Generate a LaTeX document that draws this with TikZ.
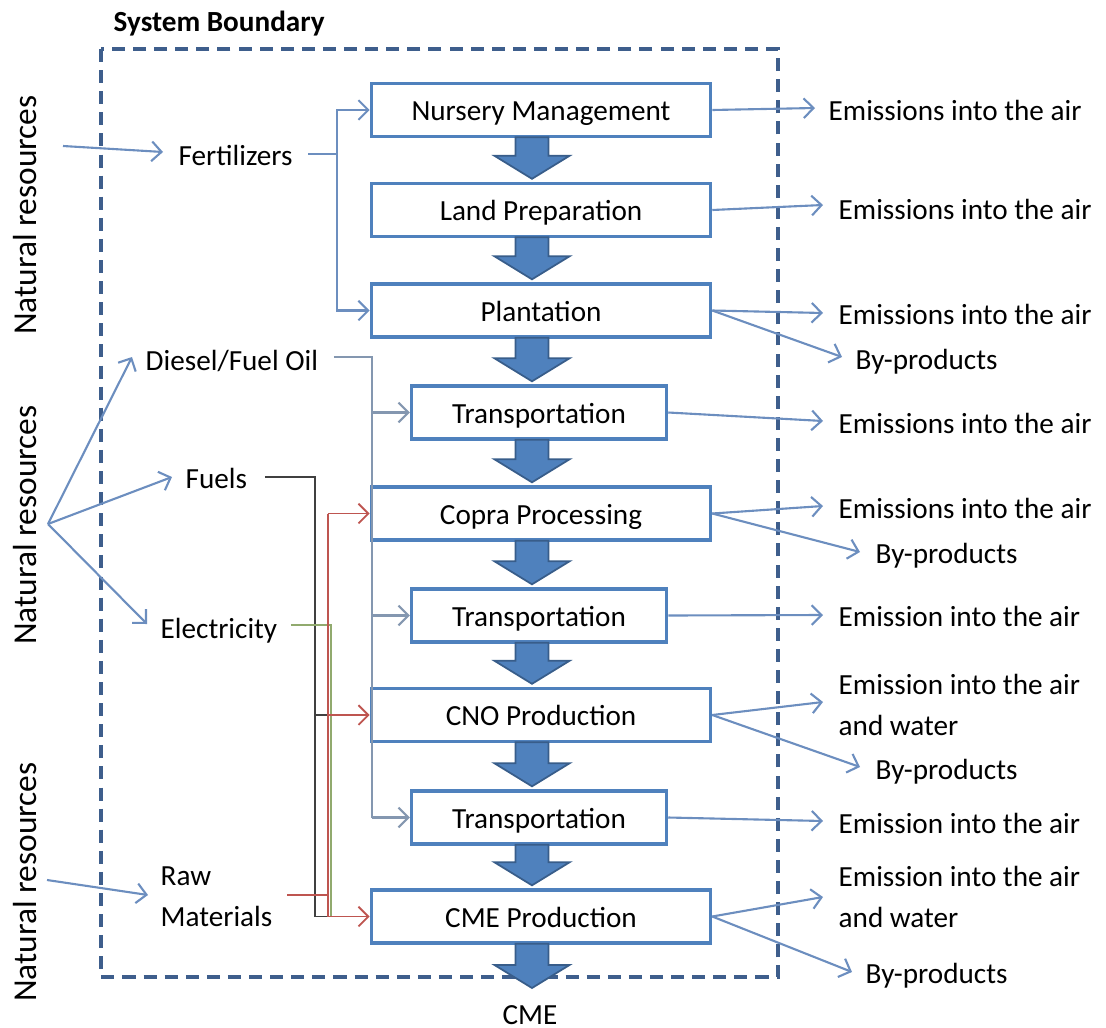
\documentclass[tikz,border=0pt]{standalone}
\usepackage{fontspec}
\setmainfont{Carlito}
\usetikzlibrary{calc,arrows.meta}
\definecolor{boxblue}{RGB}{79,129,189}
\definecolor{arrfill}{RGB}{79,129,189}
\definecolor{arrdark}{RGB}{56,93,138}
\definecolor{bndc}{RGB}{62,94,140}
\definecolor{thinblue}{RGB}{108,142,191}
\definecolor{dieselc}{RGB}{132,151,176}
\definecolor{fuelc}{RGB}{64,64,64}
\definecolor{rawc}{RGB}{190,85,80}
\definecolor{elecc}{RGB}{145,170,110}
\newcommand\fs{\fontsize{8.3}{11.6}\selectfont}
\newcommand\blockarr[2]{%
  \coordinate (ba1) at (#1 -| axisx);
  \coordinate (ba2) at (#2 -| axisx);
  \draw[barrow] ($(ba1)+(-16.5,-1)$) -- ($(ba1)+(16.5,-1)$) -- ($(ba2)+(16.5,-26)$)
    -- ($(ba2)+(37.5,-26)$) -- ($(ba2)+(0,-3)$) -- ($(ba2)+(-37.5,-26)$)
    -- ($(ba2)+(-16.5,-26)$) -- cycle;}
\begin{document}
\begin{tikzpicture}[x=0.01cm,y=-0.01cm,
  pbox/.style={draw=boxblue,line width=0.95pt,fill=white,minimum height=0.53cm,inner sep=0,font=\fs,text height=0.72em,text depth=0.1em},
  wide/.style={pbox,minimum width=3.39cm},
  narrow/.style={pbox,minimum width=2.55cm},
  lbl/.style={font=\fs,inner sep=0,anchor=west,text height=0.65em,text depth=0pt},
  lbl2/.style={font=\fs,inner sep=0,anchor=west,align=left},
  nres/.style={font=\fontsize{9.5}{11}\selectfont,inner sep=0,rotate=90},
  barrow/.style={fill=arrfill,draw=arrdark,line width=0.5pt,line join=miter},
  tipb/.style={-{Straight Barb[length=2.8pt,width=5.6pt]}},
  tl/.style={draw=thinblue,line width=0.6pt,tipb},
  dl/.style={draw=dieselc,line width=0.6pt},
  kl/.style={draw=fuelc,line width=0.55pt},
  rl/.style={draw=rawc,line width=0.55pt},
  gl/.style={draw=elecc,line width=0.65pt},
  bnd/.style={draw=bndc,line width=1pt,dash pattern=on 3.7pt off 2.3pt}]
\useasboundingbox (0,0) rectangle (1106,1027);
\coordinate (axisx) at (532,0);

% system boundary
\draw[bnd] (101,49) rectangle (778,977);
\node[font=\fs\bfseries,inner sep=0,anchor=west,text height=0.65em,text depth=0pt] (sb) at (113,20) {System Boundary};

% process boxes
\node[wide]   (nm)    at (541,110)   {Nursery Management};
\node[wide]   (lp)    at (541,210)   {Land Preparation};
\node[wide]   (plant) at (541,310.5) {Plantation};
\node[narrow] (t1)    at (539,412.5) {Transportation};
\node[wide]   (copra) at (541,513.5) {Copra Processing};
\node[narrow] (t2)    at (539,615.5) {Transportation};
\node[wide]   (cno)   at (541,715)   {CNO Production};
\node[narrow] (t3)    at (539,817.5) {Transportation};
\node[wide]   (cme)   at (541,916.5) {CME Production};
\node[lbl,anchor=center] (cmeout) at (530,1013) {CME};
\coordinate (cmetip) at (532,991);

% block arrows
\blockarr{nm.south}{lp.north}
\blockarr{lp.south}{plant.north}
\blockarr{plant.south}{t1.north}
\blockarr{t1.south}{copra.north}
\blockarr{copra.south}{t2.north}
\blockarr{t2.south}{cno.north}
\blockarr{cno.south}{t3.north}
\blockarr{t3.south}{cme.north}
\blockarr{cme.south}{cmetip}

% natural resources
\node[nres] (nr1) at (25,215) {Natural resources};
\node[nres] (nr2) at (25,525) {Natural resources};
\node[nres] (nr3) at (25,882) {Natural resources};
\coordinate (s1) at (63,146);
\coordinate (s2) at (48,524);
\coordinate (s3) at (47,880);

% inputs
\node[lbl] (fert)   at (178,154) {Fertilizers};
\node[lbl] (diesel) at (145,359) {Diesel/Fuel Oil};
\node[lbl] (fuels)  at (185,477) {Fuels};
\node[lbl] (elec)   at (160,627) {Electricity};
\node[lbl2] (raw)   at (160,897) {Raw\\Materials};

\draw[tl] (s1) -- ($(fert.west)+(-15,-2)$);
\draw[tl] (s2) -- ($(diesel.west)+(-13,-2)$);
\draw[tl] (s2) -- ($(fuels.west)+(-13,0)$);
\draw[tl] (s2) -- ($(elec.west)+(-13,-3)$);
\draw[tl] (s3) -- ($(raw.west)+(-12,-2)$);

% fertilizers feed
\draw[tl] ($(fert.east)+(15,0)$) -| ($(nm.west)+(-33,0)$) -- (nm.west);
\draw[tl] ($(fert.east)+(15,0)$) -| ($(plant.west)+(-33,0)$) -- (plant.west);

% diesel feed
\draw[dl] ($(diesel.east)+(15,-2)$) -| ($(t3.west)+(-38,0)$);
\draw[dl,tipb] ($(t1.west)+(-38,0)$) -- (t1.west);
\draw[dl,tipb] ($(t2.west)+(-38,0)$) -- (t2.west);
\draw[dl,tipb] ($(t3.west)+(-38,0)$) -- (t3.west);

% fuels feed (black)
\draw[kl] ($(fuels.east)+(17,0)$) -| ($(cme.west)+(-55,0)$) -- ($(cme.west)+(-42,0)$);
\draw[kl] ($(cno.west)+(-55,0)$) -- ($(cno.west)+(-42,0)$);

% electricity feed (green)
\draw[gl] ($(elec.east)+(13,-2)$) -| ($(cme.west)+(-39,0)$);

% raw materials feed (red)
\draw[rl] ($(raw.east)+(14,-2)$) -| ($(copra.west)+(-42,0)$);
\draw[rl,tipb] ($(copra.west)+(-42,0)$) -- (copra.west);
\draw[rl,tipb] ($(copra.west)+(-42,0)$) |- (cme.west);
\draw[rl,tipb] ($(cno.west)+(-42,0)$) -- (cno.west);

% outputs
\node[lbl] (e1) at (828,109) {Emissions into the air};
\node[lbl] (e2) at (838,208) {Emissions into the air};
\node[lbl] (e3) at (838,313) {Emissions into the air};
\node[lbl] (b3) at (855,358) {By-products};
\node[lbl] (e4) at (838,422) {Emissions into the air};
\node[lbl] (e5) at (838,507) {Emissions into the air};
\node[lbl] (b5) at (875,552) {By-products};
\node[lbl] (e6) at (838,615) {Emission into the air};
\node[lbl2] (e7) at (838,705) {Emission into the air\\and water};
\node[lbl] (b7) at (875,768) {By-products};
\node[lbl] (e8) at (838,822) {Emission into the air};
\node[lbl2] (e9) at (838,897) {Emission into the air\\and water};
\node[lbl] (b9) at (865,972) {By-products};

\draw[tl] (nm.east) -- ($(e1.west)+(-13,-1)$);
\draw[tl] (lp.east) -- ($(e2.west)+(-15,-3)$);
\draw[tl] (plant.east) -- ($(e3.west)+(-15,0)$);
\draw[tl] (plant.east) -- ($(b3.west)+(-13,-1)$);
\draw[tl] (t1.east) -- ($(e4.west)+(-15,-1)$);
\draw[tl] (copra.east) -- ($(e5.west)+(-15,-1)$);
\draw[tl] (copra.east) -- ($(b5.west)+(-15,0)$);
\draw[tl] (t2.east) -- ($(e6.west)+(-15,0)$);
\draw[tl] (cno.east) -- ($(e7.west)+(-15,-3)$);
\draw[tl] (cno.east) -- ($(b7.west)+(-15,-1)$);
\draw[tl] (t3.east) -- ($(e8.west)+(-15,-1)$);
\draw[tl] (cme.east) -- ($(e9.west)+(-15,0)$);
\draw[tl] (cme.east) -- ($(b9.west)+(-13,0)$);
\end{tikzpicture}
\end{document}
